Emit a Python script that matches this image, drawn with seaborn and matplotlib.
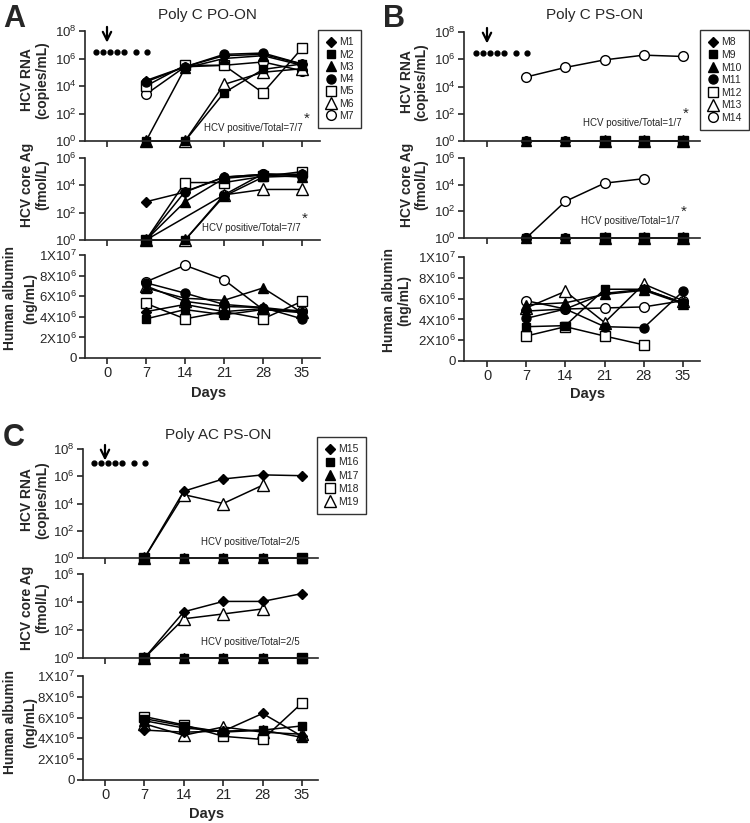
import numpy as np
import pandas as pd
import matplotlib
matplotlib.use("Agg")
import matplotlib.pyplot as plt
from matplotlib.lines import Line2D
from matplotlib.ticker import NullLocator
import seaborn as sns

sns.set_style("ticks")
plt.rcParams['font.family'] = ['Liberation Sans', 'DejaVu Sans']
plt.rcParams['mathtext.default'] = 'regular'

W, H = 750, 823
days = [7, 14, 21, 28, 35]
tick_days = [0, 7, 14, 21, 28, 35]
dose_days = [-1.9, -0.7, 0.5, 1.8, 3.1, 5.2, 7.1]
nan = np.nan

# --- panel A: Poly C PO-ON ---
a_mice = ['M1', 'M2', 'M3', 'M4', 'M5', 'M6', 'M7']
a_rna = [[2.5e4, 2.5e5, 1.6e6, 2.0e6, 4.0e5],
         [1, 1, 3.2e3, 1.6e5, 4.0e5],
         [1, 2.0e5, 1.0e6, 1.6e6, 3.2e5],
         [2.0e4, 2.5e5, 2.0e6, 2.5e6, 4.0e5],
         [1.0e4, 3.2e5, 3.2e5, 3.2e3, 5.6e6],
         [1, 1, 1.3e4, 1.0e5, 1.8e5],
         [2.5e3, 2.5e5, 3.2e5, 5.6e5, 1.3e5]]
a_core = [[630, 3.2e3, 4.0e4, 6.3e4, 6.3e4],
          [1, 1, 1.6e3, 4.0e4, 5.0e4],
          [1, 630, 3.2e4, 5.6e4, 4.0e4],
          [1, 3.5e3, 4.0e4, 6.3e4, 6.3e4],
          [1, 1.6e4, 1.6e4, 4.5e4, 1.0e5],
          [1, 1, 2.0e3, 5.0e3, 5.0e3],
          [1, nan, 2.0e3, 7.0e4, 5.0e4]]
a_alb = [[4.5e6, 5.2e6, 4.5e6, 4.8e6, 4.5e6],
         [3.8e6, 4.7e6, 4.2e6, 4.7e6, 4.4e6],
         [6.8e6, 5.8e6, 5.6e6, 6.8e6, 4.4e6],
         [7.3e6, 6.3e6, 5.2e6, 4.9e6, 3.8e6],
         [5.3e6, 3.8e6, 4.5e6, 3.8e6, 5.5e6],
         [7.0e6, 5.5e6, 5.0e6, 4.9e6, 4.5e6],
         [7.4e6, 9.0e6, 7.6e6, 4.7e6, 4.6e6]]

# --- panel B: Poly C PS-ON ---
b_mice = ['M8', 'M9', 'M10', 'M11', 'M12', 'M13', 'M14']
b_rna = [[1, 1, 1, 1, 1]] * 4 + [[nan, nan, 1, 1, 1]] * 2 + [[5.0e4, 2.5e5, 9.0e5, 2.0e6, 1.6e6]]
b_core = [[1, 1, 1, 1, 1]] * 4 + [[nan, nan, 1, 1, 1]] * 2 + [[1, 560, 1.3e4, 2.8e4, nan]]
b_alb = [[4.8e6, 5.0e6, 6.5e6, 6.9e6, 5.6e6],
         [3.3e6, 3.4e6, 6.9e6, 6.9e6, 5.6e6],
         [5.4e6, 5.6e6, 6.4e6, 6.8e6, 5.5e6],
         [4.1e6, 5.0e6, 3.3e6, 3.2e6, 6.7e6],
         [2.4e6, 3.3e6, 2.4e6, 1.55e6, nan],
         [5.1e6, 6.7e6, 3.7e6, 7.4e6, 5.8e6],
         [5.8e6, 5.0e6, 5.1e6, 5.2e6, 5.8e6]]

# --- panel C: Poly AC PS-ON ---
c_mice = ['M15', 'M16', 'M17', 'M18', 'M19']
c_rna = [[1, 8.0e4, 6.3e5, 1.26e6, 1.1e6],
         [1, 1, 1, 1, 1],
         [1, 1, 1, 1, 1],
         [1, nan, nan, nan, 1],
         [1, 4.5e4, 1.0e4, 2.2e5, nan]]
c_core = [[1, 2.0e3, 1.1e4, 1.1e4, 4.0e4],
          [1, 1, 1, 1, 1],
          [1, 1, 1, 1, 1],
          [1, nan, nan, nan, 1],
          [1, 630, 1.4e3, 3.2e3, nan]]
c_alb = [[4.8e6, 4.6e6, 4.7e6, 6.4e6, 4.2e6],
         [5.9e6, 5.2e6, 4.6e6, 4.8e6, 5.2e6],
         [5.7e6, 5.0e6, 4.7e6, 4.8e6, 4.1e6],
         [6.1e6, 5.3e6, 4.2e6, 3.9e6, 7.4e6],
         [5.4e6, 4.3e6, 5.1e6, 4.6e6, 4.4e6]]

log_ticks = [1, 1e2, 1e4, 1e6, 1e8]
log_labels = ['$10^0$', '$10^2$', '$10^4$', '$10^6$', '$10^8$']
alb_ticks = [0, 2e6, 4e6, 6e6, 8e6, 1e7]
alb_labels = ['0', '2X10$^6$', '4X10$^6$', '6X10$^6$', '8X10$^6$', '1X10$^7$']

# marker, facecolor, size
STY = {'D': ('D', 'black', 5.5), 's': ('s', 'black', 5.5), '^': ('^', 'black', 6.5),
       'o': ('o', 'black', 6.5), 'S': ('s', 'white', 7), 'T': ('^', 'white', 8.5),
       'O': ('o', 'white', 7)}
styles_7 = ['D', 's', '^', 'o', 'S', 'T', 'O']
styles_5 = ['D', 's', '^', 'S', 'T']

fig = plt.figure(figsize=(W / 100, H / 100), dpi=100)


def px_axes(left, top, right, bottom):
    return fig.add_axes([left / W, 1 - bottom / H, (right - left) / W, (bottom - top) / H])


def ftext(x, y, s, **kw):
    fig.text(x / W, 1 - y / H, s, **kw)


def draw(ax, mice, values, styles):
    df = pd.DataFrame([(m, d, v) for m, row in zip(mice, values) for d, v in zip(days, row)],
                      columns=['mouse', 'day', 'value']).dropna()
    # open symbols first so the filled ones sit on top, as in the original
    for m, st in reversed(list(zip(mice, styles))):
        mk, fc, ms = STY[st]
        sns.lineplot(data=df[df.mouse == m], x='day', y='value', ax=ax, color='black',
                     linewidth=1.1, marker=mk, markersize=ms, markerfacecolor=fc,
                     markeredgecolor='black', markeredgewidth=1.0,
                     estimator=None, errorbar=None, legend=False)
    for ln in ax.lines:
        ln.set_clip_on(False)
    ax.set_xlabel('')
    ax.set_ylabel('')


def style_ax(ax, xlim, show_xlabels):
    sns.despine(ax=ax)
    for s in ['left', 'bottom']:
        ax.spines[s].set_linewidth(1.2)
    ax.set_xlim(*xlim)
    ax.set_xticks(tick_days)
    ax.tick_params(direction='out', length=4, width=1.2, labelsize=9.5, pad=2)
    if not show_xlabels:
        ax.set_xticklabels([])


def panel(letter, title, mice, rna, core, alb, styles, geo, labels, texts, dose_y, leg):
    left, right, d0, d35 = geo['x']
    ppd = (d35 - d0) / 35
    xlim = (-(d0 - left) / ppd, 35 + (right - d35) / ppd)

    ax1 = px_axes(left, geo['rna'][0], right, geo['rna'][1])
    ax1.set_yscale('log')
    draw(ax1, mice, rna, styles)
    ax1.plot(dose_days, [dose_y] * len(dose_days), 'o', color='black', ms=3.5, clip_on=False)
    ax1.set_ylim(1, 1e8)
    ax1.set_yticks(log_ticks, log_labels)
    ax1.yaxis.set_minor_locator(NullLocator())
    style_ax(ax1, xlim, False)
    ax1.annotate('', xy=(0, 10 ** 6.95), xytext=(0, 10 ** 8.5), annotation_clip=False,
                 arrowprops=dict(arrowstyle='->, head_length=0.6, head_width=0.3',
                                 color='black', lw=1.6))

    ax2 = px_axes(left, geo['core'][0], right, geo['core'][1])
    ax2.set_yscale('log')
    draw(ax2, mice, core, styles)
    ax2.set_ylim(1, 1e6)
    ax2.set_yticks(log_ticks[:4], log_labels[:4])
    ax2.yaxis.set_minor_locator(NullLocator())
    style_ax(ax2, xlim, False)

    ax3 = px_axes(left, geo['alb'][0], right, geo['alb'][1])
    draw(ax3, mice, alb, styles)
    ax3.set_ylim(0, 1e7)
    ax3.set_yticks(alb_ticks, alb_labels)
    style_ax(ax3, xlim, True)
    ax3.tick_params(axis='x', labelsize=10.5)

    ftext(geo['letter'][0], geo['letter'][1], letter, fontsize=22, fontweight='bold',
          ha='left', va='baseline')
    ftext(geo['title'][0], geo['title'][1], title, fontsize=11, ha='center', va='center')
    ftext(geo['days'][0], geo['days'][1], 'Days', fontsize=10.5, fontweight='bold',
          ha='center', va='center')
    for (x1, x2, y), (l1, l2) in zip(labels, [('HCV RNA', '(copies/mL)'),
                                              ('HCV core Ag', '(fmol/L)'),
                                              ('Human albumin', '(ng/mL)')]):
        ftext(x1, y, l1, fontsize=10, fontweight='bold', rotation=90, ha='center', va='center')
        ftext(x2, y, l2, fontsize=10, fontweight='bold', rotation=90, ha='center', va='center')
    for (x, y, s, star) in texts:
        ftext(x, y, s, fontsize=7, ha='right', va='center')
        if star:
            ftext(x + 4, y - 9, '*', fontsize=11, ha='center', va='center')

    handles = []
    for m, st in zip(mice, styles):
        mk, fc, ms = STY[st]
        handles.append(Line2D([], [], ls='none', marker=mk, markersize=ms, color='black',
                              markerfacecolor=fc, markeredgecolor='black', label=m))
    lg = fig.legend(handles=handles, loc='upper left', bbox_to_anchor=(leg[0] / W, 1 - leg[1] / H),
                    bbox_transform=fig.transFigure, fontsize=7.5, frameon=True, fancybox=False,
                    borderaxespad=0, handlelength=1.0, handletextpad=0.35, labelspacing=leg[2],
                    borderpad=0.7)
    lg.get_frame().set_edgecolor('black')
    lg.get_frame().set_linewidth(1.0)


panel('A', 'Poly C PO-ON', a_mice, a_rna, a_core, a_alb, styles_7,
      dict(x=(85, 320, 107, 302), rna=(31, 141), core=(158, 240), alb=(255, 358),
           letter=(3, 27), title=(207, 15), days=(209, 393)),
      [(27, 42, 80), (27, 42, 185), (10, 30, 298)],
      [(303, 128, 'HCV positive/Total=7/7', True), (301, 228, 'HCV positive/Total=7/7', True)],
      10 ** 6.5, (318, 30, 0.22))

panel('B', 'Poly C PS-ON', b_mice, b_rna, b_core, b_alb, styles_7,
      dict(x=(464, 700, 487, 683), rna=(32, 141), core=(158, 238), alb=(257, 361),
           letter=(383, 27), title=(595, 15), days=(588, 394)),
      [(407, 421, 82), (407, 421, 185), (389, 404, 300)],
      [(682, 123, 'HCV positive/Total=1/7', True), (680, 221, 'HCV positive/Total=1/7', True)],
      10 ** 6.45, (700, 30, 0.25))

panel('C', 'Poly AC PS-ON', c_mice, c_rna, c_core, c_alb, styles_5,
      dict(x=(83, 318, 105, 302), rna=(449, 558), core=(574, 658), alb=(676, 780),
           letter=(3, 446), title=(218, 435), days=(207, 814)),
      [(27, 42, 500), (27, 42, 608), (10, 30, 722)],
      [(300, 542, 'HCV positive/Total=2/5', False), (300, 642, 'HCV positive/Total=2/5', False)],
      1e7, (317, 437, 0.3))

fig.savefig('out.png', dpi=100)
